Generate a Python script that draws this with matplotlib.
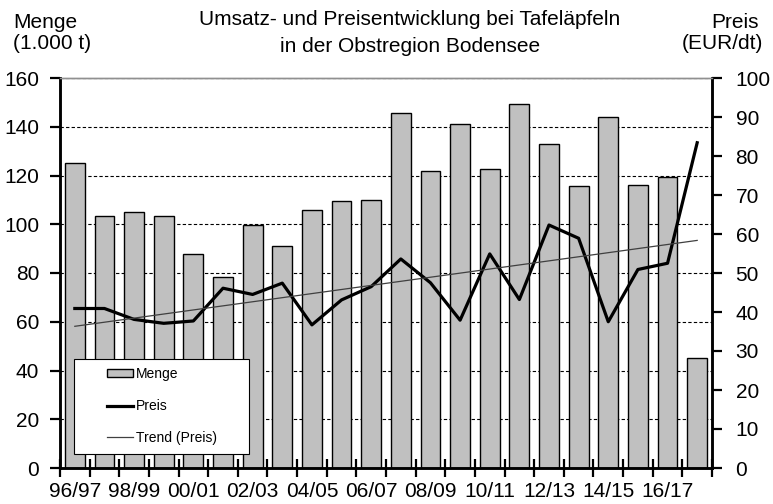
import numpy as np
import matplotlib
matplotlib.use("Agg")
import matplotlib.pyplot as plt
from matplotlib.patches import Rectangle

plt.rcParams['font.family'] = ['Liberation Sans', 'DejaVu Sans']

seasons = ["96/97", "97/98", "98/99", "99/00", "00/01", "01/02", "02/03", "03/04",
           "04/05", "05/06", "06/07", "07/08", "08/09", "09/10", "10/11", "11/12",
           "12/13", "13/14", "14/15", "15/16", "16/17", "17/18"]
menge = [125, 103.4, 105.2, 103.4, 87.7, 78.2, 99.8, 91, 105.7, 109.7, 110.1, 145.5,
         121.8, 141, 122.7, 149.3, 132.8, 115.7, 144.1, 116.2, 119.5, 45.3]
preis = [40.9, 40.9, 38.1, 37.1, 37.7, 46.1, 44.5, 47.4, 36.7, 43.1, 46.5, 53.6,
         47.5, 37.9, 54.9, 43.2, 62.3, 58.9, 37.5, 50.9, 52.5, 83.4]

x = np.arange(len(seasons))
# lineare Trendlinie wie in Excel
k, d = np.polyfit(x, preis, 1)
trend = k * x + d

W, H = 773, 504
fig = plt.figure(figsize=(W / 100, H / 100), dpi=100)
ax = fig.add_axes([60 / W, 36 / H, 652 / W, 390 / H])
ax2 = ax.twinx()

bars = ax.bar(x, menge, width=0.67, color='#c0c0c0', edgecolor='black',
              linewidth=1, label='Menge', zorder=2)
ax.set_xlim(-0.5, len(seasons) - 0.5)
ax.set_ylim(0, 160)
ax.set_yticks(range(0, 161, 20))
ax.yaxis.grid(True, linestyle=(0, (3, 2)), color='black', linewidth=0.8, zorder=0)
ax.set_axisbelow(True)

ax.set_xticks(x[::2])
ax.set_xticklabels(seasons[::2])
ax.set_xticks(np.arange(-0.5, len(seasons)), minor=True)
ax.tick_params(axis='x', which='major', length=0, pad=10, labelsize=15)
ax.tick_params(axis='x', which='minor', direction='inout', length=13, width=1.6)
ax.tick_params(axis='y', direction='out', length=7, width=1.6, labelsize=15, pad=8)

l1, = ax2.plot(x, preis, color='black', linewidth=2.3, label='Preis', zorder=3)
l2, = ax2.plot(x, trend, color='#404040', linewidth=0.9, label='Trend (Preis)', zorder=3)
ax2.set_ylim(0, 100)
ax2.set_yticks(range(0, 101, 10))
ax2.tick_params(axis='y', direction='out', length=7, width=1.6, labelsize=15, pad=10)

for a in (ax, ax2):
    a.spines['left'].set_linewidth(1.8)
    a.spines['right'].set_linewidth(1.8)
    a.spines['bottom'].set_linewidth(1.8)
    a.spines['top'].set_color('#909090')
    a.spines['top'].set_linewidth(1)

# Legendenrahmen separat, damit links mehr Platz bleibt
ax2.add_patch(Rectangle((0.0215, 0.036), 0.268, 0.244, transform=ax2.transAxes,
                        facecolor='white', edgecolor='black', linewidth=0.8,
                        zorder=4))
leg = ax2.legend([bars, l1, l2], ['Menge', 'Preis', 'Trend (Preis)'],
                 loc='upper left', bbox_to_anchor=(0.072, 0.258),
                 fontsize=10, frameon=False, borderpad=0, labelspacing=1.27,
                 handlelength=1.9, handleheight=0.5, handletextpad=0.2,
                 borderaxespad=0)
leg.set_zorder(5)

fs = 15
fig.text(410 / W, 1 - 25 / H, "Umsatz- und Preisentwicklung bei Tafeläpfeln",
         ha='center', va='baseline', fontsize=fs)
fig.text(410 / W, 1 - 52 / H, "in der Obstregion Bodensee",
         ha='center', va='baseline', fontsize=fs)
fig.text(13 / W, 1 - 28 / H, "Menge", ha='left', va='baseline', fontsize=fs)
fig.text(13 / W, 1 - 49 / H, "(1.000 t)", ha='left', va='baseline', fontsize=fs)
fig.text(759 / W, 1 - 28 / H, "Preis", ha='right', va='baseline', fontsize=fs)
fig.text(763 / W, 1 - 49 / H, "(EUR/dt)", ha='right', va='baseline', fontsize=fs)

fig.savefig("out.png", dpi=100)
